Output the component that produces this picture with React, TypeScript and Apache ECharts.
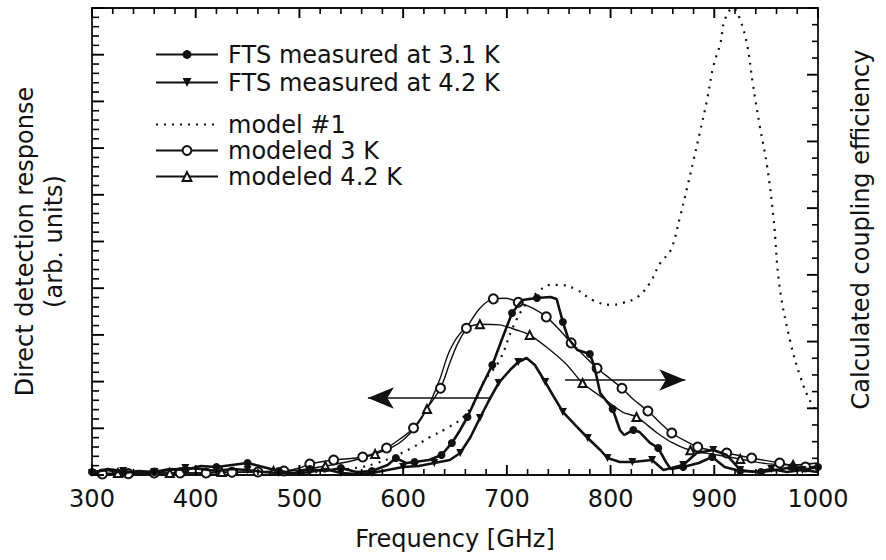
import React, { useEffect, useRef } from "react";
import * as echarts from "echarts";

// Frequency [GHz], value (left axis: arb. units), marker flag
const meas31: [number, number, number][] = [
  [300,0.32,1],[315,0.54,0],[330,0.21,1],[345,0.43,0],[360,0.32,1],[375,0.64,0],[390,0.54,1],[405,0.96,0],
  [420,0.86,1],[435,1.07,0],[450,1.28,1],[465,0.86,0],[480,0.43,1],[495,0.21,0],[510,0.64,1],[525,0.43,0],
  [540,0.75,1],[555,0.32,0],[570,0.43,1],[585,1.07,0],[593,1.82,1],[603,1.28,0],[611,1.39,1],[625,1.61,0],
  [637,2.14,1],[647,3.43,1],[655,4.82,0],[662,6.21,1],[674,9.10,0],[686,11.78,1],[695,14.45,0],[705,17.35,1],
  [715,18.74,0],[729,18.95,1],[742,19.06,0],[748,18.84,0],[754,16.38,1],[759,14.67,0],[768,13.38,0],[780,12.96,1],
  [784,11.78,0],[790,8.78,0],[802,7.07,1],[809,4.82,0],[813,4.28,0],[822,4.82,1],[828,4.60,0],[838,3.43,0],
  [846,2.89,1],[854,1.28,0],[858,0.64,0],[870,0.86,1],[885,1.28,0],[898,1.93,1],[910,0.86,0],[925,0.43,1],
  [945,0.32,1],[960,0.54,0],[975,0.86,1],[990,0.64,0],[1000,0.86,1]
];

const meas42: [number, number, number][] = [
  [300,0.21,1],[315,0.64,0],[330,0.43,1],[345,0.21,0],[360,0.32,1],[375,0.54,0],[390,0.75,1],[405,0.64,0],
  [420,0.43,1],[435,0.64,0],[450,0.54,1],[465,0.32,0],[480,0.21,1],[495,0.11,0],[510,0.32,1],[525,0.64,0],
  [540,0.21,1],[555,0.11,0],[570,0.21,1],[585,0.54,0],[600,0.86,1],[615,0.96,0],[630,1.28,1],[645,1.61,0],
  [655,2.36,1],[665,4.07,0],[674,6.10,1],[683,8.03,0],[692,9.85,1],[703,11.24,0],[711,12.10,1],[719,12.53,0],
  [727,11.78,0],[737,9.96,1],[746,8.24,0],[754,6.75,1],[766,5.35,0],[778,3.96,1],[790,2.68,0],[797,1.82,1],
  [809,1.39,0],[821,1.39,1],[840,1.61,1],[851,0.54,0],[870,1.07,1],[883,2.36,0],[899,2.68,1],[912,2.14,0],
  [925,0.54,1],[940,0.32,0],[955,0.64,1],[970,0.32,0],[985,0.54,1],[1000,0.32,0]
];

// Frequency [GHz], calculated coupling efficiency (right axis)
const model1: [number, number][] = [
  [500,0.003],[530,0.006],[560,0.012],[575,0.018],[590,0.027],[610,0.042],[626,0.057],[642,0.070],
  [658,0.087],[672,0.118],[677,0.138],[693,0.172],[706,0.222],[719,0.258],[729,0.273],[742,0.285],
  [751,0.285],[768,0.277],[783,0.262],[800,0.255],[812,0.258],[826,0.267],[838,0.288],[848,0.318],
  [858,0.337],[867,0.387],[874,0.432],[880,0.472],[886,0.513],[893,0.562],[899,0.612],[906,0.648],
  [910,0.682],[918,0.700],[925,0.682],[932,0.642],[937,0.588],[944,0.522],[951,0.462],[957,0.387],
  [963,0.282],[973,0.202],[983,0.147],[992,0.112],[1000,0.093]
];

const modeled3: [number, number, number][] = [
  [300,0.0015,0],[310,0.0015,1],[335,0.002,1],[360,0.003,1],[385,0.003,1],[410,0.003,1],[435,0.004,1],
  [460,0.0045,1],[485,0.006,1],[500,0.0105,0],[510,0.0165,1],[533,0.0225,1],[561,0.027,1],[584,0.0405,1],
  [597,0.054,0],[610,0.0705,1],[624,0.102,0],[636,0.130,1],[645,0.168,0],[652,0.195,0],[661,0.220,1],
  [674,0.250,0],[687,0.264,1],[699,0.265,0],[711,0.259,1],[725,0.250,0],[738,0.237,1],[750,0.219,0],
  [762,0.198,1],[775,0.178,0],[787,0.160,1],[799,0.145,0],[811,0.130,1],[823,0.112,0],[836,0.096,1],
  [848,0.078,0],[859,0.063,1],[872,0.051,0],[884,0.042,1],[898,0.037,0],[912,0.033,1],[936,0.0255,1],
  [963,0.018,1],[988,0.012,1],[1000,0.0135,0]
];

const modeled42: [number, number, number][] = [
  [300,0.0015,0],[325,0.003,1],[350,0.003,0],[375,0.003,1],[400,0.003,0],[425,0.0045,1],[450,0.0045,0],
  [475,0.006,1],[500,0.0075,0],[525,0.0135,1],[550,0.021,0],[573,0.0315,1],[590,0.042,0],[600,0.0525,0],
  [612,0.072,0],[623,0.099,1],[635,0.142,0],[645,0.187,0],[658,0.217,0],[674,0.226,1],[693,0.225,0],
  [710,0.217,0],[722,0.210,1],[742,0.187,0],[758,0.165,0],[773,0.138,1],[793,0.115,0],[812,0.094,0],
  [825,0.087,1],[845,0.063,0],[860,0.048,0],[877,0.037,1],[903,0.030,0],[925,0.024,1],[950,0.017,0],
  [976,0.015,1],[999,0.018,0]
];

// Arrows: [fromFreq, toFreq, level on left axis]
const arrowLeft: [number, number, number] = [684, 566, 8.24];
const arrowRight: [number, number, number] = [756, 872, 10.17];

// Axis scales: [min, max, major step, minor step]
const X_SCALE: [number, number, number, number] = [300, 1000, 100, 20];
const Y_LEFT: [number, number, number, number] = [0, 50, 5, 1];
const Y_RIGHT: [number, number, number, number] = [0, 0.7, 0.1, 0.025];

const FONT = "DejaVu Sans";
const FS = 24;
const black = "#111";

function withMarkers(arr: [number, number, number][]) {
  return arr.map(([f, v, m]) => (m ? { value: [f, v] } : { value: [f, v], symbol: "none" }));
}

// tick positions of an axis (as the axis itself would place them)
function tickValues(scale: [number, number, number, number]) {
  const [min, max, major, minor] = scale;
  const n = Math.round((max - min) / minor);
  const per = Math.round(major / minor);
  const out: [number, number][] = [];
  for (let i = 0; i <= n; i++) out.push([+(min + i * minor).toFixed(6), i % per === 0 ? 1 : 0]);
  return out;
}

function baseAxis(scale: [number, number, number, number], extra: any) {
  return {
    type: "value",
    min: scale[0],
    max: scale[1],
    interval: scale[2],
    axisLine: { show: true, onZero: false, lineStyle: { color: black, width: 1.8 } },
    axisTick: { show: false },
    axisLabel: { show: false },
    splitLine: { show: false },
    ...extra,
  };
}

export default function App() {
  const ref = useRef<HTMLDivElement>(null);
  useEffect(() => {
    document.body.style.margin = "0";
    const chart = echarts.init(ref.current!, null, { renderer: "svg" });
    const legendText = { fontFamily: FONT, fontSize: FS, color: black, lineHeight: 25, padding: [0, 0, 0, 5] };
    const tickStyle = (major: number) => ({ stroke: "#000", lineWidth: major ? 1.9 : 1.6 });

    const xTicks = tickValues(X_SCALE).map(([v, m]) => [v, Y_LEFT[0], m]);
    const yLeftTicks = tickValues(Y_LEFT).map(([v, m]) => [X_SCALE[0], v, m]);
    const yRightTicks = tickValues(Y_RIGHT).map(([v, m]) => [X_SCALE[1], v, m]);

    chart.setOption({
      animation: false,
      backgroundColor: "#fff",
      textStyle: { fontFamily: FONT, color: black },
      grid: { left: 92, right: 68, top: 8, bottom: 85 },
      legend: [
        {
          orient: "vertical",
          left: 155,
          top: 42,
          padding: 0,
          itemWidth: 62,
          itemHeight: 11,
          itemGap: 3,
          data: ["FTS measured at 3.1 K", "FTS measured at 4.2 K"],
          textStyle: legendText,
        },
        {
          orient: "vertical",
          left: 155,
          top: 112,
          padding: 0,
          itemWidth: 62,
          itemHeight: 11,
          itemGap: 1,
          data: [
            { name: "model #1", itemStyle: { opacity: 0 } },
            "modeled 3 K",
            "modeled 4.2 K",
          ],
          textStyle: legendText,
        },
      ],
      xAxis: [
        baseAxis(X_SCALE, {
          position: "bottom",
          axisLabel: {
            show: true,
            margin: 12,
            fontFamily: FONT,
            fontSize: FS,
            color: black,
            formatter: (v: number) => String(v),
          },
          name: "Frequency [GHz]",
          nameLocation: "middle",
          nameGap: 52,
          nameTextStyle: { fontFamily: FONT, fontSize: FS, color: black },
        }),
        baseAxis(X_SCALE, { position: "top" }),
      ],
      yAxis: [
        baseAxis(Y_LEFT, {
          position: "left",
          name: "Direct detection response\n(arb. units)",
          nameLocation: "middle",
          nameRotate: 90,
          nameGap: 24,
          nameTextStyle: { fontFamily: FONT, fontSize: FS, color: black, lineHeight: 29, align: "center" },
        }),
        baseAxis(Y_RIGHT, {
          position: "right",
          name: "Calculated coupling efficiency",
          nameLocation: "middle",
          nameRotate: 90,
          nameGap: 31,
          nameTextStyle: { fontFamily: FONT, fontSize: FS, color: black, padding: [0, 0, 0, 24] },
        }),
      ],
      series: [
        {
          type: "custom",
          silent: true,
          xAxisIndex: 0,
          yAxisIndex: 0,
          data: xTicks,
          encode: { x: 0, y: 1 },
          z: 10,
          renderItem: (params: any, api: any) => {
            const v = api.value(0);
            const major = api.value(2);
            const b = api.coord([v, Y_LEFT[0]]);
            const t = api.coord([v, Y_LEFT[1]]);
            const len = major ? 10 : 6;
            return {
              type: "group",
              children: [
                { type: "line", shape: { x1: b[0], y1: b[1], x2: b[0], y2: b[1] - len }, style: tickStyle(major) },
                { type: "line", shape: { x1: t[0], y1: t[1], x2: t[0], y2: t[1] + len }, style: tickStyle(major) },
              ],
            };
          },
        },
        {
          type: "custom",
          silent: true,
          xAxisIndex: 0,
          yAxisIndex: 0,
          data: yLeftTicks,
          encode: { x: 0, y: 1 },
          z: 10,
          renderItem: (params: any, api: any) => {
            const p = api.coord([api.value(0), api.value(1)]);
            const major = api.value(2);
            const len = major ? 12 : 7;
            return { type: "line", shape: { x1: p[0], y1: p[1], x2: p[0] + len, y2: p[1] }, style: tickStyle(major) };
          },
        },
        {
          type: "custom",
          silent: true,
          xAxisIndex: 0,
          yAxisIndex: 1,
          data: yRightTicks,
          encode: { x: 0, y: 1 },
          z: 10,
          renderItem: (params: any, api: any) => {
            const p = api.coord([api.value(0), api.value(1)]);
            const major = api.value(2);
            const len = major ? 11 : 6;
            return { type: "line", shape: { x1: p[0], y1: p[1], x2: p[0] - len, y2: p[1] }, style: tickStyle(major) };
          },
        },
        {
          name: "FTS measured at 3.1 K",
          type: "line",
          xAxisIndex: 0,
          yAxisIndex: 0,
          data: withMarkers(meas31),
          symbol: "circle",
          symbolSize: 8,
          itemStyle: { color: black },
          lineStyle: { color: black, width: 2.6 },
          z: 5,
        },
        {
          name: "FTS measured at 4.2 K",
          type: "line",
          xAxisIndex: 0,
          yAxisIndex: 0,
          data: withMarkers(meas42),
          symbol: "triangle",
          symbolRotate: 180,
          symbolSize: 8,
          itemStyle: { color: black },
          lineStyle: { color: black, width: 2.6 },
          z: 5,
          markLine: {
            silent: true,
            symbol: ["none", "arrow"],
            symbolSize: [16, 26],
            label: { show: false },
            lineStyle: { color: black, width: 1.6, type: "solid" },
            data: [
              [{ coord: [arrowLeft[0], arrowLeft[2]] }, { coord: [arrowLeft[1], arrowLeft[2]] }],
              [{ coord: [arrowRight[0], arrowRight[2]] }, { coord: [arrowRight[1], arrowRight[2]] }],
            ],
          },
        },
        {
          name: "model #1",
          type: "line",
          xAxisIndex: 0,
          yAxisIndex: 1,
          data: model1,
          symbol: "none",
          smooth: 0.4,
          itemStyle: { color: black },
          lineStyle: { color: black, width: 2.2, type: [2, 6] },
          z: 3,
        },
        {
          name: "modeled 3 K",
          type: "line",
          xAxisIndex: 0,
          yAxisIndex: 1,
          data: withMarkers(modeled3),
          symbol: "emptyCircle",
          symbolSize: 9,
          smooth: 0.3,
          itemStyle: { color: black, borderWidth: 1.3 },
          lineStyle: { color: black, width: 1.4 },
          z: 4,
        },
        {
          name: "modeled 4.2 K",
          type: "line",
          xAxisIndex: 0,
          yAxisIndex: 1,
          data: withMarkers(modeled42),
          symbol: "emptyTriangle",
          symbolSize: 8,
          smooth: 0.3,
          itemStyle: { color: black, borderWidth: 1.2 },
          lineStyle: { color: black, width: 1.4 },
          z: 4,
        },
      ],
    });
    return () => chart.dispose();
  }, []);
  return <div ref={ref} style={{ width: 886, height: 560 }} />;
}
